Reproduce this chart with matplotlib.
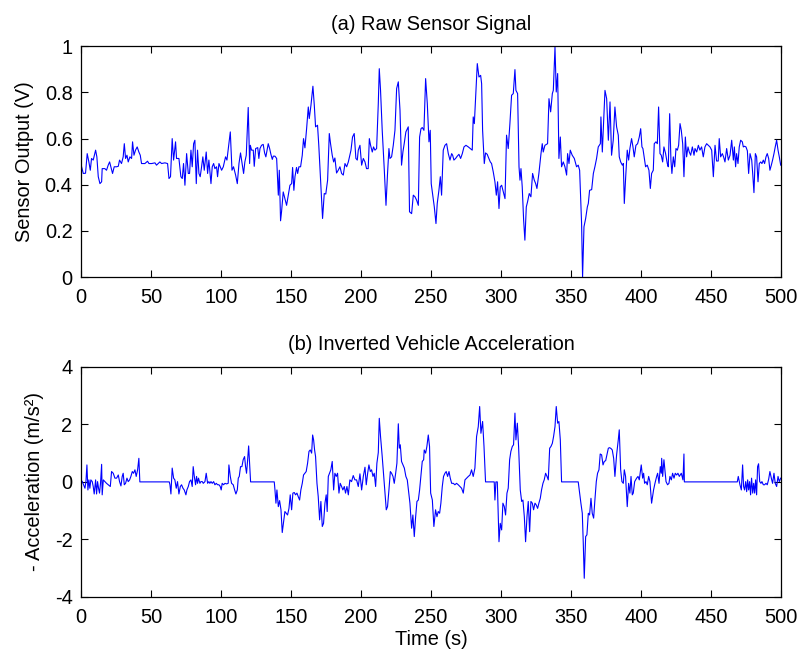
import numpy as np
import matplotlib
matplotlib.use("Agg")
import matplotlib.pyplot as plt

plt.rcParams['font.family'] = ['Liberation Sans', 'DejaVu Sans']
plt.rcParams['axes.unicode_minus'] = False

# (a) raw sensor signal, (time s, volts)
raw_a = [(0, .49), (1.7, .449), (3.3, .45), (4.5, .535), (5.7, .499), (6.7, .463), (7.6, .514), (8.8, .507),
         (10.5, .55), (11.4, .521), (12.4, .435), (13.6, .405), (14.8, .413), (15.2, .47), (17.1, .47),
         (18.3, .463), (19.5, .485), (20.5, .499), (21.4, .478), (22.6, .449), (23.8, .478), (25.5, .478),
         (26.7, .48), (27.6, .507), (29, .492), (30.2, .521), (31, .578), (31.9, .514), (32.9, .528),
         (33.8, .499), (35, .521), (36.2, .514), (36.9, .586), (37.9, .528), (39, .55), (40.2, .564),
         (41.4, .542), (42.4, .528), (43.3, .492), (45.7, .492), (47.6, .502), (48.6, .492), (50.5, .492),
         (52.9, .495), (54, .485), (56.4, .499), (57.6, .492), (60, .495), (61.9, .492), (62.9, .427),
         (64, .435), (65.2, .6), (66.2, .507), (67.6, .586), (68.3, .514), (70, .514), (71.4, .435),
         (72.4, .427), (73.3, .492), (74.3, .398), (75.5, .535), (76.7, .449), (77.6, .449), (78.6, .55),
         (79.5, .478), (80.5, .578), (81.4, .593), (82.4, .405), (83.3, .55), (84.3, .449), (85.2, .435),
         (86.2, .478), (87.1, .521), (88.1, .463), (89.5, .542), (90.5, .449), (91.4, .507), (92.9, .405),
         (93.8, .478), (94.8, .492), (95.7, .47), (96.9, .478), (97.6, .435), (98.6, .492), (99.5, .478),
         (100.5, .463), (101.7, .478), (103.3, .521), (104.3, .507), (106.7, .629), (107.9, .463),
         (109, .478), (110.5, .442), (111.7, .405), (112.9, .492), (114, .538), (115.5, .478), (116.2, .449),
         (117.1, .499), (118.1, .528), (119.5, .735), (120.5, .492), (121, .571), (121.9, .55), (123.1, .55)]
raw_b = [(123.8, .48), (124.8, .557), (126.3, .561), (127.1, .514), (127.9, .557), (129, .571), (130.2, .575),
         (131.2, .538), (132.1, .521), (133, .55), (133.8, .578), (134.8, .557), (135.7, .532), (136.7, .51),
         (137.4, .524), (138.6, .524), (139.8, .514), (141, .355), (141.7, .463), (142.6, .244), (143.3, .283),
         (144.5, .369), (145.7, .34), (146.9, .311), (148.1, .355), (149.3, .398), (150.5, .405), (151.2, .475),
         (152.1, .376), (152.9, .435), (154, .475), (154.8, .449), (155.7, .478), (156.9, .478), (158.1, .528),
         (159, .6), (160, .56), (161.2, .643), (162.4, .737), (163.1, .687), (164.3, .744), (165.7, .827),
         (166.7, .744), (167.6, .651), (169, .658), (169.9, .571), (171.4, .391), (172.6, .254), (173.8, .362),
         (174.9, .36), (176.2, .42), (177.4, .622), (178.3, .578), (179.5, .528), (180.5, .499), (181.4, .516),
         (182.6, .451), (183.8, .463), (185, .478), (186.2, .449), (187.4, .442), (188.6, .492), (189.8, .478),
         (191, .499), (192.9, .55), (194, .607), (195.2, .622), (196.4, .514), (197.4, .507), (198.1, .55),
         (199.3, .571), (200.5, .485), (201.7, .514), (202.9, .499), (204, .47), (205.2, .47), (206, .6),
         (206.9, .571), (208.1, .542), (209, .564), (210, .55), (211.2, .557), (212.4, .752), (213.1, .903),
         (214, .81), (215.2, .636), (216.7, .463), (217.9, .311), (219, .449), (220, .557), (220.7, .514),
         (221.9, .521), (223.1, .571), (224.3, .636), (225.5, .817), (226.7, .846), (227.9, .723), (229, .485),
         (230, .543), (230.9, .578), (232.1, .629), (233.8, .651), (234.7, .283), (236.2, .275), (237.4, .355)]
raw_c = [(238.6, .348), (239.8, .333), (241, .311), (241.9, .607), (242.9, .643), (243.8, .648), (245, .636),
         (246.2, .86), (247.4, .752), (248.6, .586), (249.5, .636), (250.2, .405), (251.4, .348), (252.4, .304),
         (253.6, .232), (254.5, .319), (255.7, .376), (256.7, .435), (257.6, .355), (258.8, .55), (260, .571),
         (261.2, .578), (262.4, .535), (263.6, .507), (264.8, .535), (265.5, .528), (266.4, .507), (267.6, .514),
         (268.8, .524), (270, .532), (271.2, .514), (272.4, .535), (273.6, .564), (275, .571), (276.7, .564),
         (278.1, .557), (279.5, .55), (280.2, .694), (281, .665), (281.9, .78), (283.1, .925), (284.3, .867),
         (285.5, .874), (286.2, .838), (286.9, .636), (288.1, .492), (289, .538), (290.2, .532), (290.9, .521),
         (292.4, .499), (293.3, .492), (294.5, .456), (295.7, .413), (296.7, .355), (297.6, .413), (298.6, .297),
         (299.5, .391), (300.5, .398), (301.7, .369), (302.9, .34), (304, .615), (305.2, .557), (306.4, .665),
         (307.6, .788), (308.8, .795), (310, .899), (310.7, .809), (311.9, .795), (312.9, .478), (313.6, .42),
         (314.3, .47), (315.2, .391), (316.2, .247), (317.1, .16), (318.1, .304), (319, .326), (320.2, .362),
         (321.4, .348), (322.6, .449), (323.8, .42), (324.8, .405), (325.7, .384), (327.1, .449), (328.6, .535),
         (329.5, .578), (330.2, .542), (331.4, .571), (333.3, .578), (334.3, .773), (335.5, .716), (336.7, .795),
         (337.4, .809), (338.6, .997), (339.5, .802), (340.5, .882), (341.4, .514), (342.4, .607), (343.3, .478),
         (344.5, .499), (345.7, .478), (346.9, .442), (347.6, .535), (348.6, .492), (349.5, .55), (350.9, .528),
         (352.4, .514), (354, .478), (355.2, .485), (356.2, .463), (357.6, .232), (358.3, 0.0), (359.3, .218),
         (360.5, .254), (361.7, .304), (362.4, .319), (363.3, .376), (364.8, .379), (366, .449), (367.1, .478),
         (368.3, .514), (369.5, .564), (371, .578), (371.4, .694), (372.4, .542), (373.6, .708)]
raw_d = [(374.3, .809), (375.5, .773), (376.7, .593), (377.9, .759), (379, .528), (380.2, .593), (381.4, .737),
         (382.6, .651), (383.8, .615), (384.5, .521), (385.5, .499), (386.7, .485), (387.4, .492), (388.1, .319),
         (389.1, .435), (390.2, .55), (391.2, .507), (392.1, .557), (393.3, .6), (394.3, .564), (395.2, .521),
         (396.4, .571), (397.6, .578), (398.8, .607), (399.8, .643), (400.7, .564), (401.4, .557), (402.4, .514),
         (403.3, .478), (404.5, .485), (405.7, .463), (406.7, .384), (407.6, .449), (408.8, .463), (409.5, .578),
         (410.7, .586), (411.7, .578), (412.6, .737), (413.6, .535), (414.5, .528), (415.5, .499), (416.4, .564),
         (417.6, .535), (418.8, .492), (419.5, .478), (420.5, .708), (421.4, .507), (422.1, .449), (423.1, .521),
         (424.1, .478), (425, .557), (426, .55), (426.9, .571), (427.9, .665), (428.8, .636), (429.8, .578),
         (430.7, .435), (431.7, .607), (432.6, .521), (433.6, .564), (434.5, .542), (435.5, .528), (436.7, .564),
         (437.9, .528), (438.6, .557), (439.8, .542), (441, .571), (442.1, .55), (443.3, .564), (444.5, .521),
         (445.7, .564), (446.9, .578), (448.1, .571), (449.3, .564), (450.5, .55), (451.7, .435), (452.9, .571),
         (454, .503), (455.2, .503), (455.9, .6), (456.9, .521), (458.1, .535), (459, .521), (460, .499),
         (461.2, .557), (462.4, .507), (463.6, .528), (464.8, .593), (466, .507), (466.7, .564), (467.6, .478),
         (468.3, .535), (469.3, .492), (470.2, .564), (471.2, .593), (472.4, .586), (473.1, .564), (474, .567),
         (475, .564), (476, .547), (476.9, .449), (477.9, .535), (479.1, .507), (479.8, .449), (480.7, .366),
         (481.7, .535), (482.6, .521), (483.6, .413), (484.5, .492), (485.5, .499), (486.4, .492), (487.4, .507),
         (488.3, .492), (489.3, .521), (490.2, .535), (491.2, .514), (492.1, .463), (493.1, .485), (494, .507),
         (495, .535), (495.9, .564), (496.9, .593), (497.9, .55), (498.8, .521), (499.8, .485)]

# (b) inverted vehicle acceleration, (time s, m/s^2)
acc_a = [(0, .07), (1, .01), (1.9, -.1), (2.9, -.22), (3.6, .01), (4.3, .59), (5, -.28), (5.7, .07), (6.4, -.22),
         (7.1, .07), (8.1, .01), (8.8, -.16), (9.5, -.42), (10.5, .07), (11.2, -.42), (11.9, .01), (12.6, -.22),
         (13.3, -.39), (14, -.05), (14.8, .61), (15.2, -.45), (16, .07), (17.1, .01), (18.3, -.05), (19.5, -.1),
         (21, -.16), (21.9, .36), (23.1, .3), (24.3, .13), (25.5, .13), (26.7, .24), (27.6, .01), (28.6, -.14),
         (29.5, .19), (30.2, .3), (31, -.1), (31.9, -.05), (32.9, .13), (33.8, .01), (34.8, .07), (35.7, .19),
         (36.7, .36), (37.6, .3), (38.6, .42), (39.5, .19), (40.5, .42), (41.4, .82), (42.1, 0), (63.1, 0),
         (63.6, -.1), (64.3, -.42), (65.2, .48), (66.2, .13), (67.1, .07), (68.1, -.22), (69, .01), (70, -.42),
         (71, -.16), (71.9, -.1), (72.9, -.22), (73.8, -.28), (75, -.45), (75.7, -.28), (76.7, -.16), (77.6, .01),
         (78.6, .07), (79.5, -.16), (80.2, .53), (81, .19), (81.9, -.1), (82.6, .19), (83.3, -.05), (84, .13),
         (85, -.05), (85.7, .01), (86.7, .01), (87.4, -.05), (88.6, .01), (89.5, .3), (90.5, -.05), (91.4, .01),
         (92.1, -.05), (92.9, .01), (93.8, -.05), (94.8, .01), (95.7, -.1), (96.7, -.05), (97.6, -.1),
         (98.6, -.1), (99.5, -.16), (100.2, -.28), (100.9, -.05), (101.9, -.1), (102.9, -.05), (104, -.07),
         (105.2, -.05), (105.7, .59), (106.7, .19), (107.6, -.05), (108.8, -.1), (109.8, -.28), (110.7, -.42),
         (111.7, -.28), (112.4, .13), (113.1, .19), (114, .53), (115, .53), (115.9, .77), (116.9, .88),
         (117.6, .53), (118.3, .3), (119, .71), (119.8, 1.25), (120.5, .65), (121.2, 0)]
acc_b = [(138.1, 0), (138.6, -.28), (139.3, -.74), (140, -.28), (141, -.86), (141.9, -.65), (142.9, -.97),
         (143.8, -1.76), (144.8, -1.38), (145.7, -1.03), (146.7, -1.09), (147.6, -1.15), (148.6, -.92),
         (149.5, -.45), (150.5, -.97), (151.4, -.39), (152.4, -.37), (153.3, -.45), (154.3, -.39), (155.2, -.51),
         (156.2, -.63), (157.1, -.28), (158.1, -.05), (159, .24), (160, .3), (160.9, .36), (161.9, .65),
         (162.9, 1.06), (163.8, 1.11), (164.8, 1.0), (165.5, 1.63), (166.2, 1.46), (166.9, 1.11), (167.6, .88),
         (168.6, -.05), (169.5, -.51), (170.5, -1.32), (171.4, -.68), (172.4, -1.55), (173.3, -1.44),
         (174.3, -.74), (175.2, -.45), (175.9, -1.03), (176.7, .19), (177.6, .3), (178.5, .42), (179.5, .71),
         (180.5, -.28), (181.4, .3), (182.4, .19), (183.3, .3), (184.3, -.39), (185.2, -.05), (186.2, -.16),
         (187.1, -.28), (188.1, -.16), (189, -.39), (190, -.16), (191, -.45), (192.1, .07), (193.3, .01),
         (194.5, .22), (195.7, .07), (196.9, .07), (198.1, -.16), (199.3, .28), (200.5, -.28), (201.7, .19),
         (202.9, .51), (203.8, -.1), (204.8, .3), (205.7, .59), (206.7, .36), (207.6, .42), (208.6, .19),
         (209.5, .3), (210.5, -.16), (211.4, .65), (212.4, 1.02), (213.1, 2.21), (214, 1.58), (215.2, .88),
         (216.7, -.1), (218.1, -.97), (219, -.86), (220, -.28), (221, .36), (221.9, .3), (222.9, .19),
         (223.8, -.05), (224.8, .3), (225.7, .65), (226.7, 2.02), (227.4, 1.17), (228.1, 1.29), (229, .71),
         (230, .59), (231, .48), (232.1, .19), (233.1, .07), (233.8, -.22), (235, -.74), (236.2, -1.61),
         (237.1, -1.15), (238.1, -1.9), (239, -1.26), (240, -.68), (241, -.63), (241.9, -.28), (242.9, .24),
         (243.8, .71), (244.8, .77)]
acc_c = [(245.2, 1.11), (246.2, 1.0), (247.1, 1.23), (248.1, 1.63), (249, 1.23), (249.8, -.39), (251, -.63),
         (252.1, -1.55), (253.3, -.97), (254.3, -1.21), (255.2, -1.03), (256.2, -1.09), (257.1, -.74),
         (258.1, -.16), (259, .19), (260, .3), (260.9, .36), (261.9, .19), (262.9, .36), (263.8, .13),
         (264.8, -.05), (266, -.05), (267.1, -.1), (268.3, -.05), (269.5, -.1), (270.7, -.16), (271.9, -.22),
         (273.1, -.39), (274.3, .07), (275.5, .13), (276.7, .19), (277.9, .24), (279, .42), (280.2, .19),
         (281.4, .48), (282.6, 1.58), (283.8, 1.92), (284.8, 2.62), (285.7, 1.69), (286.9, 2.1), (287.9, 1.23),
         (289, 0), (295.2, 0), (295.7, -.63), (296.4, 0), (297.4, 0), (298.6, -2.08), (299.5, -1.44),
         (300.5, -1.67), (301.4, -.74), (302.4, -.86), (303.3, -1.15), (304.3, -.39), (305.2, -.22), (306.2, .77),
         (307.1, 1.06), (308.1, 1.23), (309, 1.29), (310, 2.39), (310.7, 1.46), (311.7, 2.04), (312.6, 1.23),
         (313.8, -.28), (314.8, -.68), (315.7, -.63), (316.7, -1.21), (317.6, -2.08), (318.6, -1.21),
         (319.5, -.68), (320.5, -1.73), (321.4, -.68), (322.4, -.74), (323.3, -.97), (324.3, -.74), (325.2, -.8),
         (326.2, -.92), (327.1, -.74), (328.1, -.57), (329, -.28), (330, -.05), (330.9, .07), (331.9, .3),
         (332.9, .19), (333.8, .07), (334.8, 1.17), (335.7, 1.23), (336.7, 1.34), (337.6, 1.58), (338.6, 1.92),
         (339.5, 2.62), (340.5, 2.04), (341.4, 2.1), (342.4, 1.46), (343.3, 0), (355.2, 0), (356.2, -.39),
         (357.1, -.74), (358.1, -1.09), (358.8, -2.13), (359.5, -3.35), (360.5, -1.9), (361.4, -1.84),
         (362.4, -1.09), (363.3, -1.15), (364.3, -.57), (365.2, -1.09), (366.2, -1.26), (367.1, -.63),
         (368.1, .01), (369, .3), (370, .42), (370.9, .97), (371.9, .94), (372.9, .59), (373.8, .71), (374.8, .74),
         (375.7, .94), (376.7, 1.17), (377.6, 1.19), (378.6, 1.16), (379.5, 1.11), (380.5, .82), (381.4, .19)]
acc_d = [(382.6, .94), (383.8, 1.46), (384.5, 1.81), (385.5, .42), (386.4, .01), (387.4, -.05), (388.1, .42),
         (389, .19), (390.2, -.86), (391.2, -.05), (392.1, -.39), (392.9, .19), (393.8, -.45), (394.5, -.39),
         (395.5, .01), (396.9, .13), (397.9, .19), (398.8, .07), (400.2, .59), (401.2, .13), (401.9, .3),
         (402.6, -.05), (403.6, .01), (404.5, -.1), (405.5, .19), (406.4, .01), (407.6, -.74), (408.3, -.51),
         (409, -.28), (410, -.05), (411.2, .19), (411.9, .3), (412.9, -.05), (413.8, .53), (414.5, .3),
         (414.8, .82), (415.5, .19), (416.4, .77), (417.1, .42), (417.9, .01), (419, -.1), (420, -.05),
         (420.7, .19), (421.7, .07), (422.6, .3), (423.6, .13), (424.5, .3), (425.5, .24), (426.4, .3),
         (427.4, .19), (428.8, .3), (430, .07), (430.7, .97), (431, 0), (468.8, 0), (469.5, .19), (470.7, -.1),
         (471.7, -.28), (472.6, .59), (473.3, -.16), (474, -.28), (474.8, .01), (475.5, -.34), (476.2, .07),
         (476.9, -.28), (477.6, .01), (478.3, -.45), (479, .13), (479.8, -.39), (480.5, -.05), (481.2, -.39),
         (481.9, .07), (482.6, -.45), (483.3, .53), (484, .63), (484.8, .01), (485.7, -.05), (486.4, .01),
         (487.4, -.1), (488.3, -.1), (489.3, -.05), (490.2, -.1), (491.2, .09), (492.1, .36), (493.1, .13),
         (494, -.05), (495, .3), (495.9, -.05), (496.9, -.16), (497.9, .19), (498.8, .01), (499.8, .13)]

x_ticks = [0, 50, 100, 150, 200, 250, 300, 350, 400, 450, 500]
raw_yticks = [0, 0.2, 0.4, 0.6, 0.8, 1]
raw_ytick_labels = ['0', '0.2', '0.4', '0.6', '0.8', '1']
acc_yticks = [-4, -2, 0, 2, 4]

raw_t, raw_v = np.array(raw_a + raw_b + raw_c + raw_d).T
acc_t, acc_v = np.array(acc_a + acc_b + acc_c + acc_d).T

fig = plt.figure(figsize=(8.01, 6.52), dpi=100)
ax1 = fig.add_axes([0.101, 0.575, 0.874, 0.354])
ax2 = fig.add_axes([0.101, 0.0844, 0.874, 0.353])

fs = 14.4
for ax in (ax1, ax2):
    ax.set_xlim(0, 500)
    ax.set_xticks(x_ticks)
    ax.tick_params(direction='in', top=True, right=True, length=5, width=0.8, labelsize=fs)
    ax.tick_params(axis='x', pad=8)
    ax.tick_params(axis='y', pad=6)
    for s in ax.spines.values():
        s.set_linewidth(0.9)

ax1.plot(raw_t, raw_v, color='#0000ff', lw=0.8)
ax1.set_ylim(0, 1)
ax1.set_yticks(raw_yticks)
ax1.set_yticklabels(raw_ytick_labels)
ax1.set_ylabel('Sensor Output (V)', fontsize=fs, labelpad=8)
ax1.set_title('(a) Raw Sensor Signal', fontsize=fs, pad=12)

ax2.plot(acc_t, acc_v, color='#0000ff', lw=0.8)
ax2.set_ylim(-4, 4)
ax2.set_yticks(acc_yticks)
ax2.set_ylabel('- Acceleration (m/s²)', fontsize=fs, labelpad=8)
ax2.set_xlabel('Time (s)', fontsize=fs, labelpad=2)
ax2.set_title('(b) Inverted Vehicle Acceleration', fontsize=fs, pad=12)

fig.savefig('out.png', dpi=100)
